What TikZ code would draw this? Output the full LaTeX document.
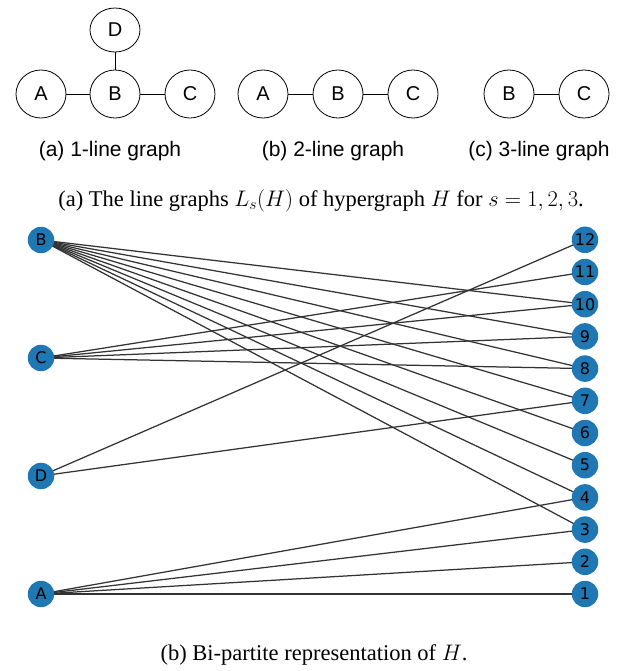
\documentclass[tikz,border=0pt]{standalone}
\usepackage{fix-cm}
\usepackage{fontspec}
\setmainfont{Liberation Serif}
\newfontfamily\helv{Liberation Sans}
\newfontfamily\dejavu{DejaVu Sans}
\usetikzlibrary{shapes.geometric}
\definecolor{mplblue}{HTML}{1F77B4}
\begin{document}
\begin{tikzpicture}[x=1pt,y=-1pt,
  lg/.style={draw, ellipse, minimum width=50pt, minimum height=48pt, inner sep=0pt, line width=0.8pt, font=\helv\fontsize{20}{20}\selectfont},
  lgline/.style={line width=0.8pt},
  sublabel/.style={font=\helv\fontsize{21}{24}\selectfont, inner sep=0pt},
  caption/.style={font=\fontsize{22.5}{26}\selectfont, inner sep=0pt},
  bp/.style={circle, fill=mplblue, minimum size=26.5pt, inner sep=0pt, font=\dejavu\fontsize{16}{16}\selectfont, text=black},
  bpedge/.style={line width=1.25pt, black!80},
  ]
\useasboundingbox (0,0) rectangle (629,671);
% (a) 1-line graph
\node[lg, minimum height=44pt] (a1D) at (115,30) {D};
\node[lg] (a1A) at (41,94) {A};
\node[lg] (a1B) at (115,94) {B};
\node[lg] (a1C) at (190,94) {C};
\draw[lgline] (a1A) -- (a1B);
\draw[lgline] (a1B) -- (a1C);
\draw[lgline] (a1B) -- (a1D);
% (b) 2-line graph
\node[lg] (a2A) at (263,94) {A};
\node[lg] (a2B) at (338,94) {B};
\node[lg] (a2C) at (413,94) {C};
\draw[lgline] (a2A) -- (a2B);
\draw[lgline] (a2B) -- (a2C);
% (c) 3-line graph
\node[lg] (a3B) at (509,94) {B};
\node[lg] (a3C) at (584,94) {C};
\draw[lgline] (a3B) -- (a3C);
% sublabels
\node[sublabel] (la) at (110,151) {(a) 1-line graph};
\node[sublabel] (lb) at (333,151) {(b) 2-line graph};
\node[sublabel] (lc) at (539,151) {(c) 3-line graph};
\node[caption] (capa) at (321,201) {(a) The line graphs $L_s(H)$ of hypergraph $H$ for $s=1,2,3$.};
% bipartite graph
\coordinate (pB) at (41,240);
\coordinate (pC) at (41,358);
\coordinate (pD) at (41,476);
\coordinate (pA) at (41,594);
\foreach \i in {1,...,12} {\coordinate (p\i) at (585,{594-(\i-1)*32.2});}
\foreach \e in {3,4,5,6,7,8,9,10} {\draw[bpedge] (pB) -- (p\e);}
\foreach \e in {8,9,10,11} {\draw[bpedge] (pC) -- (p\e);}
\foreach \e in {7,12} {\draw[bpedge] (pD) -- (p\e);}
\foreach \e in {1,2,3,4} {\draw[bpedge] (pA) -- (p\e);}
\node[bp] (nB) at (pB) {B};
\node[bp] (nC) at (pC) {C};
\node[bp] (nD) at (pD) {D};
\node[bp] (nA) at (pA) {A};
\foreach \i in {1,...,12} {\node[bp] (n\i) at (p\i) {\i};}
\node[caption] (capb) at (314,655) {(b) Bi-partite representation of $H$.};
\end{tikzpicture}
\end{document}
